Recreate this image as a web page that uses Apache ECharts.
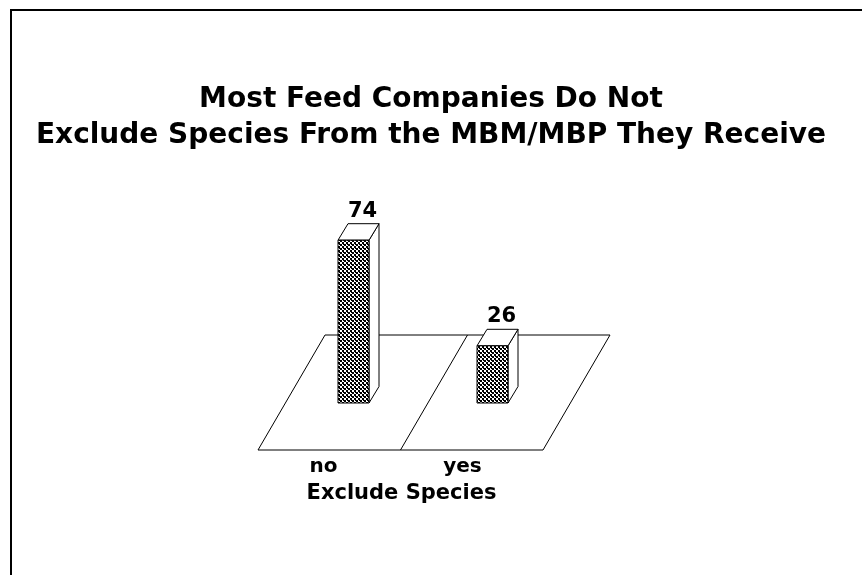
<!DOCTYPE html>
<html>
<head>
<meta charset="utf-8">
<script src="https://cdn.jsdelivr.net/npm/echarts@6/dist/echarts.min.js"></script>
<style>
html,body{margin:0;padding:0;background:#fff;}
#chart{width:862px;height:575px;}
</style>
</head>
<body>
<div id="chart"></div>
<script>
const titleLines = ['Most Feed Companies Do Not', 'Exclude Species From the MBM/MBP They Receive'];
const categories = ['no', 'yes'];
const values = [74, 26];
const axisTitle = 'Exclude Species';

const FONT = '"DejaVu Sans", sans-serif';

// dithered fill pattern for the front faces
const tile = document.createElement('canvas');
tile.width = 4; tile.height = 4;
const tctx = tile.getContext('2d');
tctx.fillStyle = '#fff'; tctx.fillRect(0, 0, 4, 4);
tctx.fillStyle = '#000';
tctx.fillRect(0, 0, 2, 2);
tctx.fillRect(2, 2, 2, 2);
tctx.fillRect(3, 0, 1, 1);

const chart = echarts.init(document.getElementById('chart'), null, {renderer: 'canvas'});

const DEPTH_X = 10, DEPTH_Y = -16.5, BAR_W = 31;

function renderFloor(params, api) {
  const cs = params.coordSys;
  const y0 = api.coord([0, 0])[1];
  const fy = y0 + 47, by = y0 - 68, sx = 67;
  const fl = cs.x - 26, fr = cs.x + cs.width - 19, fm = (fl + fr) / 2;
  const st = {stroke: '#000', lineWidth: 1, fill: null};
  return {
    type: 'group',
    children: [
      {type: 'polygon', shape: {points: [[fl, fy], [fr, fy], [fr + sx, by], [fl + sx, by]]}, style: {stroke: '#000', lineWidth: 1, fill: '#fff'}},
      {type: 'line', shape: {x1: fm, y1: fy, x2: fm + sx, y2: by}, style: st}
    ]
  };
}

function renderBar(params, api) {
  const idx = api.value(0);
  const val = api.value(1);
  const top = api.coord([idx, val]);
  const base = api.coord([idx, 0]);
  const xl = top[0] - BAR_W / 2, xr = top[0] + BAR_W / 2;
  const yt = top[1], yb = base[1];
  return {
    type: 'group',
    children: [
      {type: 'polygon', shape: {points: [[xr, yb], [xr, yt], [xr + DEPTH_X, yt + DEPTH_Y], [xr + DEPTH_X, yb + DEPTH_Y]]},
        style: {fill: '#fff', stroke: '#000', lineWidth: 1}},
      {type: 'polygon', shape: {points: [[xl, yt], [xr, yt], [xr + DEPTH_X, yt + DEPTH_Y], [xl + DEPTH_X, yt + DEPTH_Y]]},
        style: {fill: '#fff', stroke: '#000', lineWidth: 1}},
      {type: 'rect', shape: {x: xl, y: yt, width: BAR_W, height: yb - yt},
        style: {fill: {image: tile, repeat: 'repeat'}, stroke: '#000', lineWidth: 1}},
      {type: 'text', style: {text: String(val), x: top[0] + DEPTH_X - 1, y: yt + DEPTH_Y - 2,
        textAlign: 'center', textVerticalAlign: 'bottom', font: 'bold 21px ' + FONT, fill: '#000'}}
    ]
  };
}

chart.setOption({
  animation: false,
  backgroundColor: '#fff',
  title: {
    text: titleLines.join('\n'),
    left: 'center',
    top: 77,
    textStyle: {fontFamily: FONT, fontSize: 28, fontWeight: 'bold', color: '#000', lineHeight: 36}
  },
  graphic: [{
    type: 'polyline', shape: {points: [[11, 575], [11, 10], [862, 10]]},
    style: {stroke: '#000', lineWidth: 2, fill: null}, silent: true
  }],
  grid: {left: 284, right: 300, top: 183, bottom: 172},
  xAxis: {
    type: 'category',
    data: categories,
    axisLine: {show: false},
    axisTick: {show: false},
    axisLabel: {margin: 54, color: '#000', fontFamily: FONT, fontSize: 20, fontWeight: 'bold', padding: [0, 60, 0, 0]},
    name: axisTitle,
    nameLocation: 'middle',
    nameGap: 80,
    nameTextStyle: {color: '#000', fontFamily: FONT, fontSize: 21, fontWeight: 'bold', padding: [0, 43, 0, 0]}
  },
  yAxis: {type: 'value', min: 0, max: 100, show: false},
  series: [
    {type: 'custom', renderItem: renderFloor, data: [[0, 0]], silent: true, z: 1, clip: false},
    {type: 'custom', renderItem: renderBar, data: categories.map((c, i) => [i, values[i]]), z: 2, clip: false,
      encode: {x: 0, y: 1}}
  ]
});
</script>
</body>
</html>
